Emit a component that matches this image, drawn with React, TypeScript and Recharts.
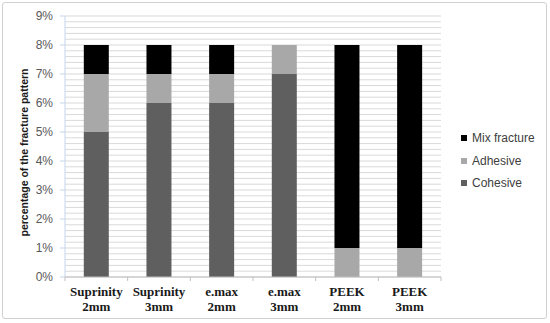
import { BarChart, Bar, XAxis, YAxis, CartesianGrid } from "recharts";

const categories = [
  "Suprinity 2mm",
  "Suprinity 3mm",
  "e.max 2mm",
  "e.max 3mm",
  "PEEK 2mm",
  "PEEK 3mm",
];
const cohesive = [5, 6, 6, 7, 0, 0];
const adhesive = [2, 1, 1, 1, 1, 1];
const mixFracture = [1, 1, 1, 0, 7, 7];

const Y_MAX = 9;
const yTicks = [0, 1, 2, 3, 4, 5, 6, 7, 8, 9];
// minor grid every 0.2%
const gridValues = Array.from({ length: 46 }, (_, i) => (i * 2) / 10);

const CHART_W = 550;
const CHART_H = 323;
const MARGIN = { top: 16, right: 109, left: 0, bottom: 0 };
const X_AXIS_H = 46;
const PLOT_H = CHART_H - MARGIN.top - MARGIN.bottom - X_AXIS_H;

const COLORS = {
  cohesive: "#5f5f5f",
  adhesive: "#a8a8a8",
  mix: "#000000",
};

const data = categories.map((name, i) => ({
  name,
  cohesive: cohesive[i],
  adhesive: adhesive[i],
  mix: mixFracture[i],
}));

const legendItems = [
  { label: "Mix fracture", color: COLORS.mix },
  { label: "Adhesive", color: COLORS.adhesive },
  { label: "Cohesive", color: COLORS.cohesive },
];

const gridPoints = gridValues.map((t) => MARGIN.top + PLOT_H * (1 - t / Y_MAX));

const CategoryTick = (props: any) => {
  const { x, y, payload, index, visibleTicksCount, width } = props;
  const half = width && visibleTicksCount ? width / visibleTicksCount / 2 : payload.offset || 0;
  const [line1, line2] = String(payload.value).split(" ");
  return (
    <g>
      <line x1={x - half} x2={x - half} y1={y} y2={y + 4} stroke="#bfbfbf" />
      {index === visibleTicksCount - 1 && (
        <line x1={x + half} x2={x + half} y1={y} y2={y + 4} stroke="#bfbfbf" />
      )}
      <text
        x={x}
        y={y}
        textAnchor="middle"
        fontFamily="'Liberation Serif', 'Times New Roman', serif"
        fontWeight="bold"
        fontSize={13}
        fill="#1a1a1a"
      >
        <tspan x={x} dy={19}>
          {line1}
        </tspan>
        <tspan x={x} dy={15}>
          {line2}
        </tspan>
      </text>
    </g>
  );
};

const YLabel = (props: any) => {
  const { viewBox } = props;
  const cx = viewBox.x + 28;
  const cy = viewBox.y + viewBox.height / 2 + 6;
  return (
    <text
      x={cx}
      y={cy}
      transform={`rotate(-90, ${cx}, ${cy})`}
      textAnchor="middle"
      fontSize={10.5}
      fontWeight="bold"
      fill="#1a1a1a"
      fontFamily="'Liberation Sans', Arial, sans-serif"
    >
      percentage of the fracture pattern
    </text>
  );
};

const ChartLegend = () => (
  <div
    style={{
      position: "absolute",
      left: 461,
      top: 127,
      fontFamily: "'Liberation Sans', Arial, sans-serif",
      fontSize: 12,
      color: "#404040",
    }}
  >
    {legendItems.map((item) => (
      <div key={item.label} style={{ display: "flex", alignItems: "center", height: 22.5 }}>
        <span
          style={{
            display: "inline-block",
            width: 6,
            height: 6,
            background: item.color,
            marginRight: 5,
          }}
        />
        {item.label}
      </div>
    ))}
  </div>
);

export default function App() {
  return (
    <div style={{ position: "fixed", left: 0, top: 0, width: CHART_W, height: CHART_H, background: "#fff" }}>
      <div
        style={{
          position: "absolute",
          left: 2,
          top: 2,
          width: 543,
          height: 315,
          border: "1px solid #d0d0d0",
          borderRadius: 3,
        }}
      />
      <BarChart
        width={CHART_W}
        height={CHART_H}
        data={data}
        margin={MARGIN}
        barCategoryGap="30%"
        style={{ position: "absolute", left: 0, top: 0 }}
      >
        <CartesianGrid vertical={false} stroke="#d9d9d9" horizontalPoints={gridPoints} />
        <XAxis
          dataKey="name"
          height={X_AXIS_H}
          stroke="#bfbfbf"
          tickLine={false}
          tickSize={0}
          tickMargin={0}
          tick={<CategoryTick />}
          interval={0}
        />
        <YAxis
          domain={[0, Y_MAX]}
          ticks={yTicks}
          interval={0}
          width={65}
          tickSize={5}
          tickMargin={7}
          stroke="#c5d5ea"
          tickFormatter={(v) => `${v}%`}
          tick={{ fontSize: 12, fill: "#595959", fontFamily: "'Liberation Sans', Arial, sans-serif" }}
          label={<YLabel />}
        />
        <Bar dataKey="cohesive" name="Cohesive" stackId="a" fill={COLORS.cohesive} isAnimationActive={false} />
        <Bar dataKey="adhesive" name="Adhesive" stackId="a" fill={COLORS.adhesive} isAnimationActive={false} />
        <Bar dataKey="mix" name="Mix fracture" stackId="a" fill={COLORS.mix} isAnimationActive={false} />
      </BarChart>
      <ChartLegend />
    </div>
  );
}
